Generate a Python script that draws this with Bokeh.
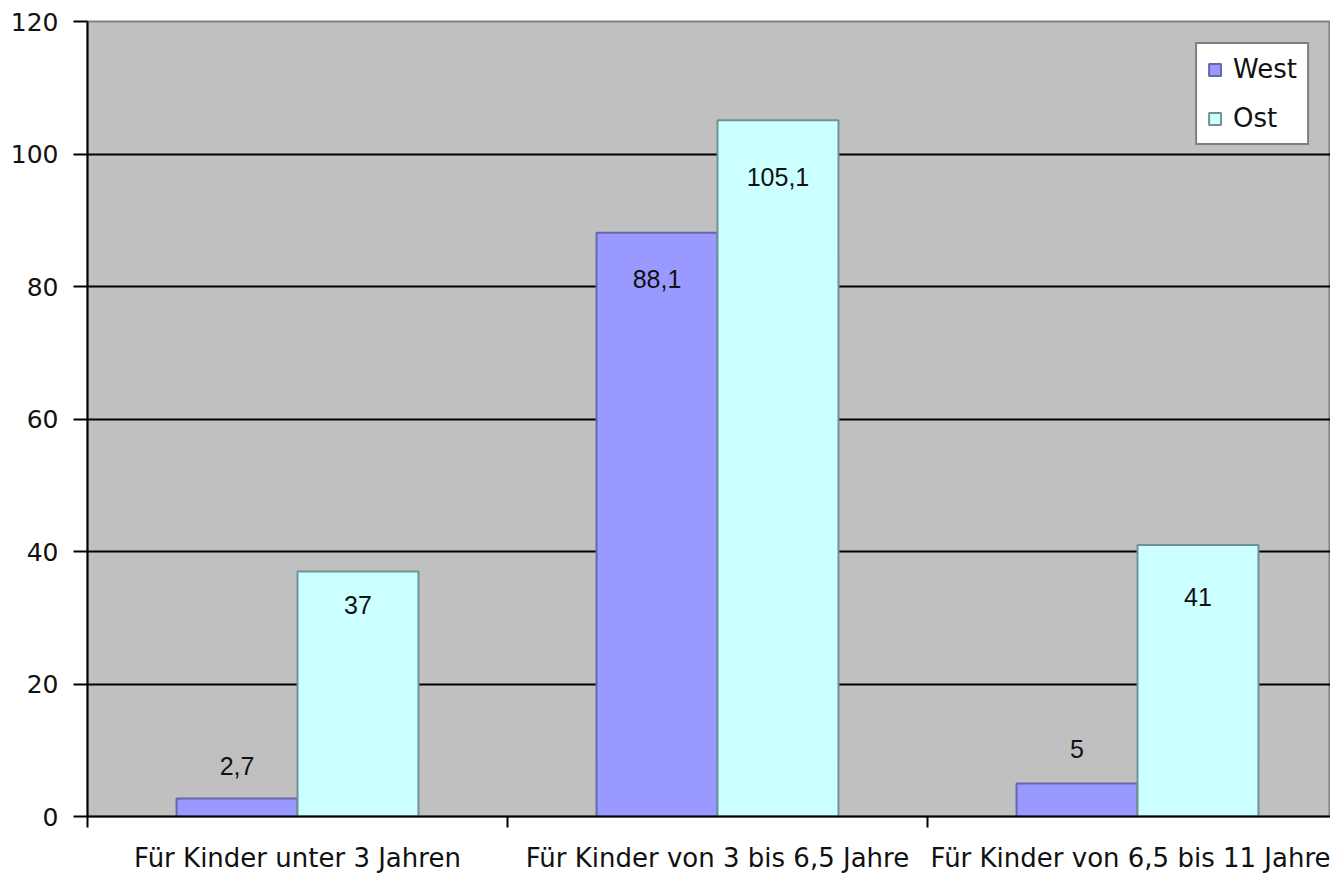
from bokeh.plotting import figure
from bokeh.models import (Range1d, FixedTicker, ColumnDataSource, LabelSet,
                          Legend, LegendItem)
from bokeh.core.properties import value
from bokeh.embed import file_html
from bokeh.resources import INLINE

# Kinderbetreuung: Plätze je 100 Kinder, West vs. Ost
categories = [
    "Für Kinder unter 3 Jahren",
    "Für Kinder von 3 bis 6,5 Jahre",
    "Für Kinder von 6,5 bis 11 Jahre",
]
west = [2.7, 88.1, 5]
ost = [37, 105.1, 41]
y_ticks = [0, 20, 40, 60, 80, 100, 120]

# vertical shift of each value label from the bar top, in pixels (up = positive)
label_shift_west = [33, -46, 34]
label_shift_ost = [-34, -57, -52]

BAR_W = 0.288          # width of one bar, in category units
VISIBLE = 1243 / 420   # the last category runs past the right edge

centers = [i + 0.5 for i in range(len(categories))]
boundaries = [float(i) for i in range(len(categories) + 1)]


def fmt(v):
    s = f"{v:g}"
    return s.replace(".", ",")


src_w = ColumnDataSource(dict(
    x=[c - BAR_W / 2 for c in centers], top=west,
    txt=[fmt(v) for v in west], dy=label_shift_west))
src_o = ColumnDataSource(dict(
    x=[c + BAR_W / 2 for c in centers], top=ost,
    txt=[fmt(v) for v in ost], dy=label_shift_ost))

p = figure(width=1330, height=875,
           x_range=Range1d(0, VISIBLE), y_range=Range1d(0, 120),
           output_backend="svg", toolbar_location=None,
           min_border_left=87, min_border_right=0,
           min_border_top=21, min_border_bottom=58,
           background_fill_color="#c0c0c0", border_fill_color="white",
           outline_line_color="#808080", outline_line_width=2)

r_w = p.vbar(x="x", top="top", width=BAR_W, bottom=0, source=src_w,
             fill_color="#9999ff", line_color="#6666aa", line_width=2)
r_o = p.vbar(x="x", top="top", width=BAR_W, bottom=0, source=src_o,
             fill_color="#ccffff", line_color="#6f9393", line_width=2)

for src in (src_w, src_o):
    p.add_layout(LabelSet(x="x", y="top", text="txt", y_offset="dy",
                          source=src, text_align="center",
                          text_baseline="middle",
                          text_font=value("Liberation Sans"),
                          text_font_size=value("25px"),
                          text_color="#111111"))

# x axis: category names centred, tick marks on the category boundaries
xa = p.xaxis[0]
xa.ticker = FixedTicker(ticks=centers, minor_ticks=boundaries)
xa.major_label_overrides = {c: name for c, name in zip(centers, categories)}
xa.major_tick_out = 0
xa.major_tick_in = 0
xa.minor_tick_in = 0
xa.minor_tick_out = 11
xa.minor_tick_line_color = "black"
xa.minor_tick_line_width = 2
xa.axis_line_color = "black"
xa.axis_line_width = 2
xa.major_label_standoff = 15
xa.major_label_text_font = "DejaVu Sans"
xa.major_label_text_font_size = "26px"
xa.major_label_text_color = "#111111"

ya = p.yaxis[0]
ya.ticker = FixedTicker(ticks=y_ticks, minor_ticks=[])
ya.major_tick_out = 14
ya.major_tick_in = 0
ya.minor_tick_out = 0
ya.minor_tick_in = 0
ya.major_tick_line_color = "black"
ya.major_tick_line_width = 2
ya.axis_line_color = "black"
ya.axis_line_width = 2
ya.major_label_standoff = 15
ya.major_label_text_font = "DejaVu Sans"
ya.major_label_text_font_size = "25px"
ya.major_label_text_color = "#111111"

p.xgrid.visible = False
p.ygrid.ticker = FixedTicker(ticks=y_ticks[1:-1], minor_ticks=[])
p.ygrid.grid_line_color = "black"
p.ygrid.grid_line_width = 2

legend = Legend(items=[LegendItem(label="West", renderers=[r_w]),
                       LegendItem(label="Ost", renderers=[r_o])],
                location="top_right", margin=21,
                border_line_color="black", border_line_width=2,
                background_fill_color="white", background_fill_alpha=1,
                glyph_width=15, glyph_height=15, label_standoff=11,
                padding=10, spacing=19,
                label_text_font="DejaVu Sans", label_text_font_size="26px",
                label_text_color="#111111")
p.add_layout(legend)

open("out.html", "w").write(file_html(p, INLINE))
